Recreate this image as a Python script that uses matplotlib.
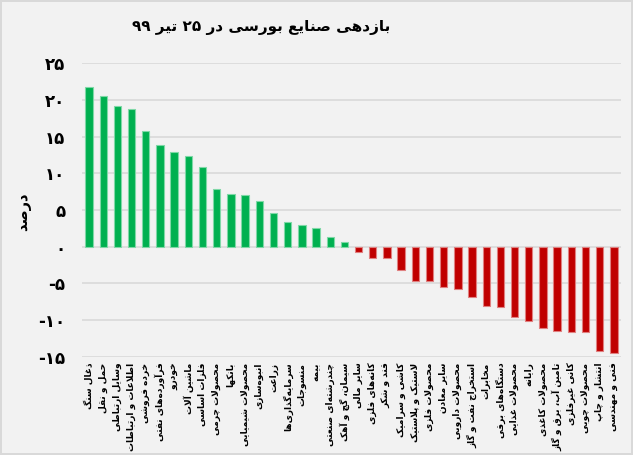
import matplotlib
matplotlib.use('Agg')
import matplotlib.pyplot as plt
import numpy as np

# ---------------- data ----------------
categories = [
    "ذغال سنگ", "حمل و نقل", "وسایل ارتباطی", "اطلاعات و ارتباطات", "خرده فروشی",
    "فرآورده‌های نفتی", "خودرو", "ماشین آلات", "فلزات اساسی", "محصولات چرمی",
    "بانکها", "محصولات شیمیایی", "انبوه‌سازی", "زراعت", "سرمایه‌گذاری‌ها",
    "منسوجات", "بیمه", "چندرشته‌ای صنعتی", "سیمان، گچ و آهک", "سایر مالی",
    "کانه‌های فلزی", "قند و شکر", "کاشی و سرامیک", "لاستیک و پلاستیک", "محصولات فلزی",
    "سایر معادن", "محصولات دارویی", "استخراج نفت و گاز", "مخابرات", "دستگاه‌های برقی",
    "محصولات غذایی", "رایانه", "محصولات کاغذی", "تامین آب، برق و گاز", "کانی غیرفلزی",
    "محصولات چوبی", "انتشار و چاپ", "فنی و مهندسی",
]
values = [21.8, 20.5, 19.1, 18.7, 15.7, 13.9, 12.9, 12.4, 10.8, 7.8,
          7.2, 7.0, 6.2, 4.6, 3.3, 2.9, 2.5, 1.3, 0.7, -0.7,
          -1.5, -1.5, -3.1, -4.7, -4.7, -5.5, -5.7, -6.9, -8.1, -8.2,
          -9.6, -10.1, -11.1, -11.5, -11.6, -11.6, -14.2, -14.5]
yticks = [-15, -10, -5, 0, 5, 10, 15, 20, 25]
title = "بازدهی صنایع بورسی در ۲۵ تیر ۹۹"
ylabel = "درصد"

# ------------- Arabic/Persian shaping (presentation forms) -------------
def _f(a, b=None, c=None, d=None):
    return tuple(chr(x) if x is not None else None for x in (a, b, c, d))

FORMS = {
    '\u0621': _f(0xFE80),
    '\u0622': _f(0xFE81, 0xFE82), '\u0623': _f(0xFE83, 0xFE84),
    '\u0624': _f(0xFE85, 0xFE86), '\u0625': _f(0xFE87, 0xFE88),
    '\u0626': _f(0xFE89, 0xFE8A, 0xFE8B, 0xFE8C),
    '\u0627': _f(0xFE8D, 0xFE8E),
    '\u0628': _f(0xFE8F, 0xFE90, 0xFE91, 0xFE92),
    '\u0629': _f(0xFE93, 0xFE94),
    '\u062A': _f(0xFE95, 0xFE96, 0xFE97, 0xFE98),
    '\u062B': _f(0xFE99, 0xFE9A, 0xFE9B, 0xFE9C),
    '\u062C': _f(0xFE9D, 0xFE9E, 0xFE9F, 0xFEA0),
    '\u062D': _f(0xFEA1, 0xFEA2, 0xFEA3, 0xFEA4),
    '\u062E': _f(0xFEA5, 0xFEA6, 0xFEA7, 0xFEA8),
    '\u062F': _f(0xFEA9, 0xFEAA), '\u0630': _f(0xFEAB, 0xFEAC),
    '\u0631': _f(0xFEAD, 0xFEAE), '\u0632': _f(0xFEAF, 0xFEB0),
    '\u0633': _f(0xFEB1, 0xFEB2, 0xFEB3, 0xFEB4),
    '\u0634': _f(0xFEB5, 0xFEB6, 0xFEB7, 0xFEB8),
    '\u0635': _f(0xFEB9, 0xFEBA, 0xFEBB, 0xFEBC),
    '\u0636': _f(0xFEBD, 0xFEBE, 0xFEBF, 0xFEC0),
    '\u0637': _f(0xFEC1, 0xFEC2, 0xFEC3, 0xFEC4),
    '\u0638': _f(0xFEC5, 0xFEC6, 0xFEC7, 0xFEC8),
    '\u0639': _f(0xFEC9, 0xFECA, 0xFECB, 0xFECC),
    '\u063A': _f(0xFECD, 0xFECE, 0xFECF, 0xFED0),
    '\u0641': _f(0xFED1, 0xFED2, 0xFED3, 0xFED4),
    '\u0642': _f(0xFED5, 0xFED6, 0xFED7, 0xFED8),
    '\u0643': _f(0xFED9, 0xFEDA, 0xFEDB, 0xFEDC),
    '\u0644': _f(0xFEDD, 0xFEDE, 0xFEDF, 0xFEE0),
    '\u0645': _f(0xFEE1, 0xFEE2, 0xFEE3, 0xFEE4),
    '\u0646': _f(0xFEE5, 0xFEE6, 0xFEE7, 0xFEE8),
    '\u0647': _f(0xFEE9, 0xFEEA, 0xFEEB, 0xFEEC),
    '\u0648': _f(0xFEED, 0xFEEE),
    '\u0649': _f(0xFEEF, 0xFEF0),
    '\u064A': _f(0xFEF1, 0xFEF2, 0xFEF3, 0xFEF4),
    '\u067E': _f(0xFB56, 0xFB57, 0xFB58, 0xFB59),
    '\u0686': _f(0xFB7A, 0xFB7B, 0xFB7C, 0xFB7D),
    '\u0698': _f(0xFB8A, 0xFB8B),
    '\u06A9': _f(0xFB8E, 0xFB8F, 0xFB90, 0xFB91),
    '\u06AF': _f(0xFB92, 0xFB93, 0xFB94, 0xFB95),
    '\u06CC': _f(0xFBFC, 0xFBFD, 0xFBFE, 0xFBFF),
}
LAMALEF = {'\u0627': ('\uFEFB', '\uFEFC'), '\u0622': ('\uFEF5', '\uFEF6'),
           '\u0623': ('\uFEF7', '\uFEF8'), '\u0625': ('\uFEF9', '\uFEFA')}
DIGITS = set('0123456789۰۱۲۳۴۵۶۷۸۹')


def _dual(c):
    return c in FORMS and FORMS[c][2] is not None


def shape(text):
    ch = list(text)
    n = len(ch)
    out = []
    i = 0
    while i < n:
        c = ch[i]
        if c == '\u200c':
            i += 1
            continue
        if c not in FORMS:
            out.append(c)
            i += 1
            continue
        jp = i > 0 and _dual(ch[i - 1])
        if c == '\u0644' and i + 1 < n and ch[i + 1] in LAMALEF:
            out.append(LAMALEF[ch[i + 1]][1 if jp else 0])
            i += 2
            continue
        jn = _dual(c) and i + 1 < n and ch[i + 1] in FORMS
        iso, fin, ini, med = FORMS[c]
        if jp and jn:
            g = med
        elif jp:
            g = fin
        elif jn:
            g = ini
        else:
            g = iso
        out.append(g)
        i += 1
    # visual order: reverse, keeping digit runs left-to-right
    runs = []
    for c in out:
        isd = c in DIGITS
        if runs and runs[-1][0] == isd:
            runs[-1][1].append(c)
        else:
            runs.append([isd, [c]])
    res = ''
    for isd, cs in reversed(runs):
        res += ''.join(cs) if isd else ''.join(reversed(cs))
    return res


def fa_num(v):
    s = str(abs(v)).translate(str.maketrans('0123456789', '۰۱۲۳۴۵۶۷۸۹'))
    return ('-' + s) if v < 0 else s


# ---------------- plot ----------------
plt.rcParams['font.family'] = ['DejaVu Sans']
bg = '#F2F2F2'
fig = plt.figure(figsize=(6.33, 4.55), dpi=100, facecolor=bg,
                 edgecolor='#D9D9D9', linewidth=1.5)
ax = fig.add_axes([0.1295, 0.2154, 0.8515, 0.6461])
ax.set_facecolor(bg)

x = np.arange(len(values))
colors = ['#00B050' if v >= 0 else '#C00000' for v in values]
edges = ['#7FD8A7' if v >= 0 else '#E08080' for v in values]
ax.bar(x, values, width=0.52, color=colors, edgecolor=edges, linewidth=0.8, zorder=3)

ax.set_xlim(-0.5, len(values) - 0.5)
ax.set_ylim(-15, 25)
ax.set_yticks(yticks)
ax.set_yticklabels([fa_num(t) for t in yticks], fontsize=12, fontweight='bold')
ax.yaxis.grid(True, color='#D9D9D9', linewidth=1.2, zorder=0)
ax.set_axisbelow(True)
ax.tick_params(axis='both', length=0)
ax.tick_params(axis='y', pad=12)
for s in ax.spines.values():
    s.set_visible(False)

ax.set_xticks(x)
ax.set_xticklabels([shape(c) for c in categories], rotation=90,
                   fontsize=6.5, fontweight='bold', va='top', ha='center')
ax.tick_params(axis='x', pad=4)

fig.text(0.038, 0.5354, shape(ylabel), rotation=90, fontsize=10.5,
         fontweight='bold', ha='center', va='center')
fig.text(0.412, 0.94, shape(title), fontsize=11, fontweight='bold',
         ha='center', va='center')

fig.savefig('out.png', dpi=100, facecolor=bg, edgecolor='#D9D9D9')
